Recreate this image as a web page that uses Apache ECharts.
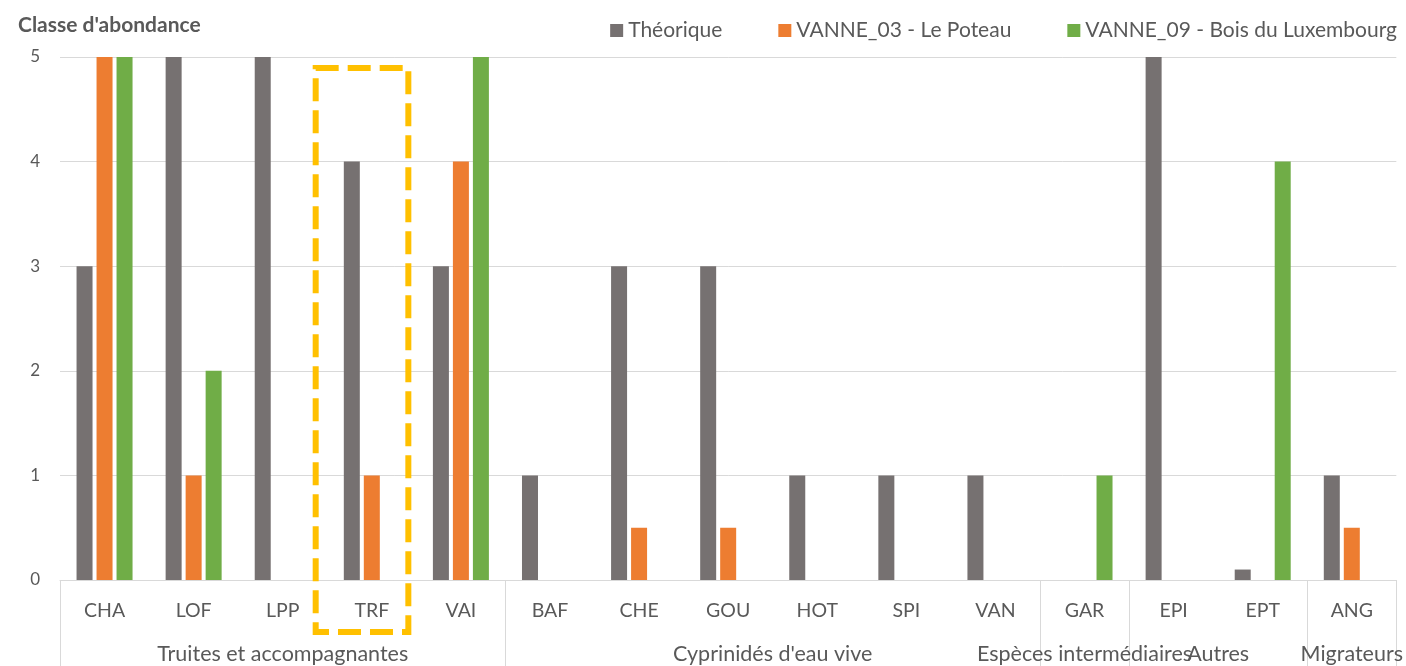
<!DOCTYPE html>
<html>
<head>
<meta charset="utf-8">
<script src="https://cdn.jsdelivr.net/npm/echarts@6/dist/echarts.min.js"></script>
<style>
html,body{margin:0;padding:0;background:#fff;}
#chart{width:1406px;height:666px;}
</style>
</head>
<body>
<div id="chart"></div>
<script>
const categories = ['CHA','LOF','LPP','TRF','VAI','BAF','CHE','GOU','HOT','SPI','VAN','GAR','EPI','EPT','ANG'];
const groupNames = ['Truites et accompagnantes', "Cyprinidés d'eau vive", 'Espèces intermédiaires', 'Autres', 'Migrateurs'];
const groupSizes = [5, 6, 1, 2, 1];
const theorique = [3, 5, 5, 4, 3, 1, 3, 3, 1, 1, 1, 0, 5, 0.1, 1];
const vanne03 = [5, 1, 0, 1, 4, 0, 0.5, 0.5, 0, 0, 0, 0, 0, 0, 0.5];
const vanne09 = [5, 2, 0, 0, 5, 0, 0, 0, 0, 0, 0, 1, 0, 4, 0];
const yTicks = [0, 1, 2, 3, 4, 5];
const highlighted = 'TRF';

const FONT = 'Lato, "Open Sans", sans-serif';
const TXT = '#595959';

// group boundaries and centers
const bounds = [0];
groupSizes.forEach(s => bounds.push(bounds[bounds.length - 1] + s));
const centers = groupSizes.map((s, i) => bounds[i] + s / 2);

const chart = echarts.init(document.getElementById('chart'));
const option = {
  animation: false,
  textStyle: { fontFamily: FONT },
  title: {
    text: "Classe d'abondance",
    left: 13, top: 10,
    textStyle: { fontFamily: FONT, fontSize: 21, fontWeight: 'bold', color: TXT }
  },
  legend: {
    right: 4, top: 15,
    itemWidth: 13, itemHeight: 13, itemGap: 56,
    icon: 'rect',
    textStyle: { fontFamily: FONT, fontSize: 21, color: TXT }
  },
  grid: { left: 60, right: 9, top: 57, bottom: 86, containLabel: false },
  xAxis: [
    {
      type: 'category',
      data: categories,
      position: 'bottom',
      axisLine: { show: true, lineStyle: { color: '#d9d9d9', width: 1 } },
      axisTick: { show: false },
      axisLabel: { margin: 21, fontSize: 19.5, color: TXT, fontFamily: FONT, interval: 0 },
      splitLine: { show: false }
    },
    {
      type: 'value',
      min: 0, max: categories.length,
      position: 'bottom',
      axisLine: { show: false },
      splitLine: { show: false },
      axisTick: {
        show: true, length: 86, inside: false,
        customValues: bounds,
        lineStyle: { color: '#d9d9d9', width: 1 }
      },
      axisLabel: {
        show: true, margin: 63, fontSize: 21.5, color: TXT, fontFamily: FONT,
        customValues: centers,
        formatter: v => {
          const i = centers.findIndex(c => Math.abs(c - v) < 1e-6);
          return i >= 0 ? groupNames[i] : '';
        }
      }
    }
  ],
  yAxis: {
    type: 'value',
    min: 0, max: 5, interval: 1,
    axisLine: { show: false },
    axisTick: { show: false },
    axisLabel: { margin: 20, fontSize: 17, color: TXT, fontFamily: FONT,
      formatter: v => yTicks.includes(v) ? String(v) : '' },
    splitLine: { lineStyle: { color: '#d9d9d9', width: 1 } }
  },
  series: [
    { name: 'Théorique', type: 'bar', data: theorique, barWidth: 16, barGap: '25%', itemStyle: { color: '#767171' } },
    { name: 'VANNE_03 - Le Poteau', type: 'bar', data: vanne03, barWidth: 16, barGap: '25%', itemStyle: { color: '#ED7D31' } },
    { name: 'VANNE_09 - Bois du Luxembourg', type: 'bar', data: vanne09, barWidth: 16, barGap: '25%', itemStyle: { color: '#70AD47' } }
  ]
};
chart.setOption(option);

// highlight annotation around the TRF group
const cx = chart.convertToPixel({ xAxisIndex: 0 }, highlighted);
const yTop = chart.convertToPixel({ yAxisIndex: 0 }, 5);
const yBase = chart.convertToPixel({ yAxisIndex: 0 }, 0);
const band = chart.convertToPixel({ xAxisIndex: 0 }, categories[1]) - chart.convertToPixel({ xAxisIndex: 0 }, categories[0]);
chart.setOption({
  graphic: [{
    type: 'rect',
    shape: { x: cx - band * 0.63, y: yTop + 11, width: band * 1.04, height: (yBase - yTop) + 41 },
    style: { fill: 'none', stroke: '#FFC000', lineWidth: 6, lineDash: [23, 9] },
    z: 100
  }]
});
</script>
</body>
</html>
